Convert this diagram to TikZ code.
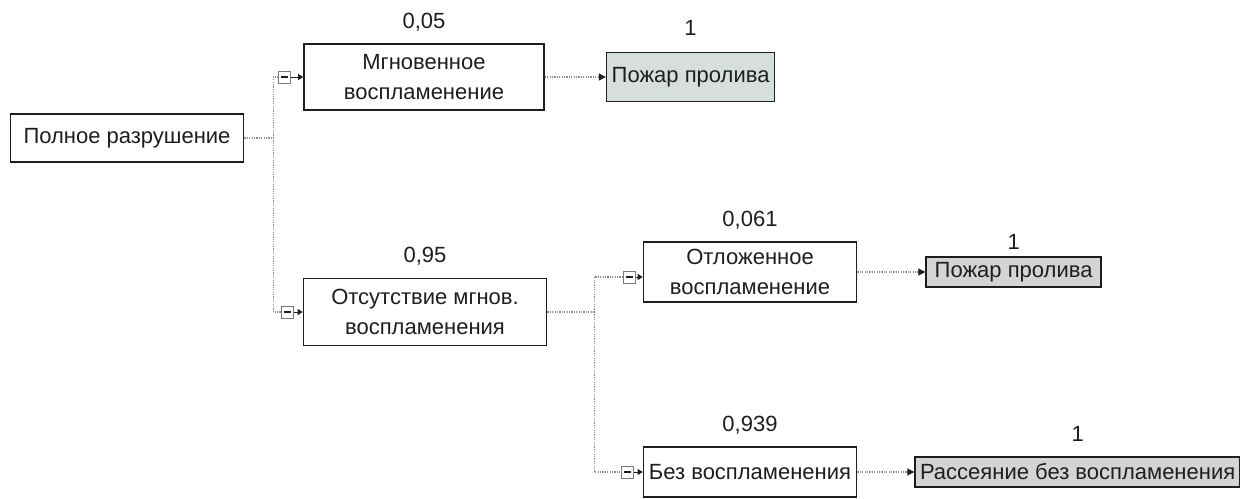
\documentclass[tikz,border=0pt]{standalone}
\usepackage{fontspec}
\setmainfont{Liberation Sans}
\usetikzlibrary{arrows.meta,positioning}
\definecolor{Ink}{HTML}{1E1E1E}
\definecolor{DotG}{HTML}{8C8C8C}
\definecolor{LeafG}{HTML}{D7DFDA}
\definecolor{LeafF}{HTML}{D4D4D2}
\definecolor{TglG}{HTML}{7A7A7A}

\begin{document}
\begin{tikzpicture}[x=0.5pt,y=-0.5pt,font=\fontsize{11}{15}\selectfont,
    box/.style={draw=Ink,fill=white,line width=0.8pt,align=center,text=Ink,inner sep=0pt},
    leaf/.style={box,fill=LeafF,minimum height=15pt},
    tgl/.style={draw=TglG,fill=white,line width=0.5pt,minimum size=6pt,inner sep=0pt,
      path picture={\draw[Ink,line width=0.8pt] ([xshift=-1.7pt]path picture bounding box.center)
        -- ([xshift=1.7pt]path picture bounding box.center);}},
    prob/.style={text=Ink,inner sep=0pt},
    dots/.style={DotG,line width=0.6pt,dash pattern=on 0.6pt off 0.6pt},
    tick/.style={Ink,line width=0.5pt,-{Triangle[length=2.5pt,width=3pt]}},
    >={Triangle[length=3.5pt,width=3.5pt,color=Ink]}]
  \useasboundingbox (0,0) rectangle (1240,498);
  \node[box,minimum width=116.5pt,minimum height=24pt] (root) at (127,138) {Полное разрушение};
  \node[box,minimum width=120pt,minimum height=33pt] (inst) at (424,77) {Мгновенное\\воспламенение};
  \node[box,minimum width=121.5pt,minimum height=33.5pt] (noinst) at (425,312) {Отсутствие мгнов.\\воспламенения};
  \node[box,minimum width=106.5pt,minimum height=30pt] (delay) at (750,272) {Отложенное\\воспламенение};
  \node[box,minimum width=106.5pt,minimum height=25pt] (noign) at (750,472) {Без воспламенения};
  \node[leaf,fill=LeafG,minimum width=84pt,minimum height=24.5pt,right=30.5pt of inst] (fire1) {Пожар пролива};
  \node[leaf,minimum width=87.5pt,right=34pt of delay] (fire2) {Пожар пролива};
  \node[leaf,minimum width=162.5pt,right=28.5pt of noign] (disp) {Рассеяние без воспламенения};
  \node[tgl,left=6pt of inst] (t1) {};
  \node[tgl,left=4.5pt of noinst] (t2) {};
  \node[tgl,left=3.5pt of delay,yshift=-2.5pt] (t3) {};
  \node[tgl,left=4.5pt of noign] (t4) {};
  \node[prob,above=7.5pt of inst,anchor=base] (pinst) {0,05};
  \node[prob,above=7.5pt of noinst,anchor=base] (pnoinst) {0,95};
  \node[prob,above=7.5pt of delay,anchor=base] (pdelay) {0,061};
  \node[prob,above=7.5pt of noign,anchor=base] (pnoign) {0,939};
  \node[prob,above=8pt of fire1,anchor=base] (pfire1) {1};
  \node[prob,above=3.5pt of fire2,anchor=base] (pfire2) {1};
  \node[prob,above=7.5pt of disp,anchor=base] (pdisp) {1};
  \draw[dots] (root.east) -- ++(29,0) coordinate (j1);
  \draw[dots] (j1) |- (t1.west);
  \draw[dots] (j1) |- (t2.west);
  \draw[dots] (noinst.east) -- ++(47,0) coordinate (j2);
  \draw[dots] (j2) |- (t3.west);
  \draw[dots] (j2) |- (t4.west);
  \draw[dots,->] (inst.east) -- (fire1.west);
  \draw[dots,->] (delay.east) -- (fire2.west);
  \draw[dots,->] (noign.east) -- (disp.west);
  \draw[tick] (t1.east) -- (t1.east -| inst.west);
  \draw[tick] (t2.east) -- (t2.east -| noinst.west);
  \draw[tick] (t3.east) -- (t3.east -| delay.west);
  \draw[tick] (t4.east) -- (t4.east -| noign.west);
\end{tikzpicture}
\end{document}
